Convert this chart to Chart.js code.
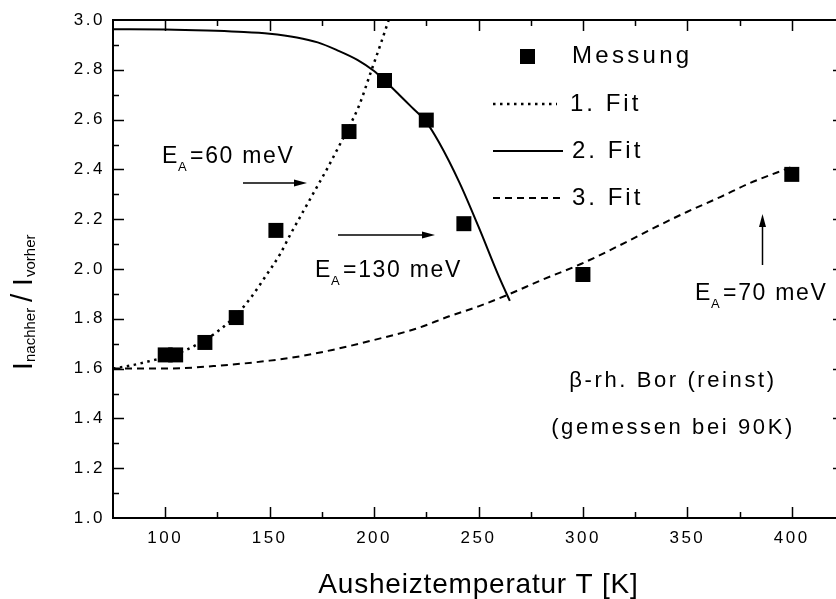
<!DOCTYPE html>
<html>
<head>
<meta charset="utf-8">
<script src="https://cdn.jsdelivr.net/npm/chart.js@4.4.0/dist/chart.umd.min.js"></script>
<style>
  html, body { margin: 0; padding: 0; background: #fff; overflow: hidden; }
  #wrap { width: 860px; height: 599px; }
</style>
</head>
<body>
<div id="wrap"><canvas id="c" width="860" height="599"></canvas></div>
<script>
// Measured ratio I_nachher / I_vorher against annealing temperature
const messungT = [100, 105, 119, 134, 153, 188, 205, 225, 243, 300, 400];
const messungV = [1.655, 1.655, 1.705, 1.805, 2.155, 2.552, 2.757, 2.598, 2.182, 1.978, 2.38];

// 1. Fit (E_A = 60 meV)
const fit1T = [75, 85, 95, 100, 110, 118, 126, 134, 141, 148, 155, 160, 166, 172, 178, 183, 188, 193, 198, 203, 207];
const fit1V = [1.600, 1.615, 1.635, 1.645, 1.675, 1.71, 1.755, 1.815, 1.885, 1.97, 2.06, 2.14, 2.23, 2.32, 2.41, 2.49, 2.57, 2.66, 2.78, 2.90, 3.0];

// 2. Fit (E_A = 130 meV)
const fit2T = [75, 100, 120, 135, 150, 163, 173, 182, 192, 200, 205, 212, 218, 225, 231, 241, 250, 260, 265];
const fit2V = [2.963, 2.962, 2.958, 2.953, 2.945, 2.93, 2.91, 2.88, 2.84, 2.795, 2.757, 2.70, 2.65, 2.59, 2.51, 2.345, 2.17, 1.965, 1.872];

// 3. Fit (E_A = 70 meV)
const fit3T = [75, 100, 126, 150, 165, 180, 200, 220, 236, 250, 265, 280, 299, 320, 334, 350, 366, 380, 400];
const fit3V = [1.600, 1.600, 1.612, 1.632, 1.65, 1.675, 1.715, 1.76, 1.81, 1.85, 1.90, 1.955, 2.02, 2.105, 2.165, 2.23, 2.29, 2.345, 2.41];

// Labelled ticks
const xTickLabels = [100, 150, 200, 250, 300, 350, 400];
const yTickLabels = ['1.0', '1.2', '1.4', '1.6', '1.8', '2.0', '2.2', '2.4', '2.6', '2.8', '3.0'];

const FONT = "'Liberation Sans', Arial, sans-serif";
const pts = (xs, ys) => xs.map((x, i) => ({ x: x, y: ys[i] }));

function txt(ctx, s, x, y, size, spacing, align) {
  ctx.font = size + 'px ' + FONT;
  ctx.letterSpacing = spacing + 'px';
  ctx.textAlign = align || 'left';
  ctx.textBaseline = 'alphabetic';
  ctx.fillStyle = '#000';
  ctx.fillText(s, x, y);
}

// "E_A=..." label with subscript A
function eaLabel(ctx, x, y, rest) {
  txt(ctx, 'E', x, y, 23, 1.7);
  txt(ctx, 'A', x + 16, y + 8, 13, 0.5);
  txt(ctx, rest, x + 28, y, 23, 1.7);
}

function arrow(ctx, x1, y1, x2, y2) {
  const a = Math.atan2(y2 - y1, x2 - x1);
  const L = 13, W = 3.5;
  ctx.save();
  ctx.strokeStyle = '#000';
  ctx.fillStyle = '#000';
  ctx.lineWidth = 1.5;
  ctx.setLineDash([]);
  ctx.beginPath();
  ctx.moveTo(x1, y1);
  ctx.lineTo(x2 - Math.cos(a) * L * 0.8, y2 - Math.sin(a) * L * 0.8);
  ctx.stroke();
  ctx.beginPath();
  ctx.moveTo(x2, y2);
  ctx.lineTo(x2 - Math.cos(a) * L - Math.sin(a) * W, y2 - Math.sin(a) * L + Math.cos(a) * W);
  ctx.lineTo(x2 - Math.cos(a) * L + Math.sin(a) * W, y2 - Math.sin(a) * L - Math.cos(a) * W);
  ctx.closePath();
  ctx.fill();
  ctx.restore();
}

const decor = {
  id: 'decor',
  beforeDraw(chart) {
    // wide-set tick labels
    chart.ctx.letterSpacing = '2.5px';
  },
  afterDraw(chart) {
    const ctx = chart.ctx;
    const xs = chart.scales.x, ys = chart.scales.y;
    const a = chart.chartArea;
    ctx.save();
    ctx.letterSpacing = '0px';

    // inward tick marks on all four sides
    ctx.strokeStyle = '#000';
    ctx.lineWidth = 1.5;
    ctx.beginPath();
    xs.ticks.forEach(t => {
      const v = t.value;
      if (v <= xs.min || v >= xs.max) return;
      const px = Math.round(xs.getPixelForValue(v)) + 0.5;
      const len = (v % 50 === 0) ? 11 : 6;
      ctx.moveTo(px, a.bottom); ctx.lineTo(px, a.bottom - len);
      ctx.moveTo(px, a.top); ctx.lineTo(px, a.top + len);
    });
    ys.ticks.forEach(t => {
      const v = t.value;
      if (v <= ys.min + 1e-9 || v >= ys.max - 1e-9) return;
      const py = Math.round(ys.getPixelForValue(v)) + 0.5;
      const len = (Math.round(v * 10) % 2 === 0) ? 11 : 6;
      ctx.moveTo(a.left, py); ctx.lineTo(a.left + len, py);
      ctx.moveTo(a.right, py); ctx.lineTo(a.right - len, py);
    });
    ctx.stroke();

    // legend
    const ms = chart.data.datasets;
    ctx.fillStyle = '#000';
    ctx.fillRect(520, 49, 15, 15);
    txt(ctx, 'Messung', 572, 63, 24, 3.3);
    const legendLine = (ds, y, x2) => {
      ctx.save();
      ctx.strokeStyle = '#000';
      ctx.lineWidth = ds.borderWidth;
      ctx.setLineDash(ds.borderDash || []);
      ctx.beginPath();
      ctx.moveTo(493, y); ctx.lineTo(x2, y);
      ctx.stroke();
      ctx.restore();
    };
    legendLine(ms[1], 104, 557); txt(ctx, '1. Fit', 570, 111, 24, 3);
    legendLine(ms[2], 151, 563); txt(ctx, '2. Fit', 572, 158, 24, 3);
    legendLine(ms[3], 198, 563); txt(ctx, '3. Fit', 572, 205, 24, 3);

    // activation energy notes
    eaLabel(ctx, 162, 163, '=60 meV');
    arrow(ctx, 243, 183, 307, 183);
    eaLabel(ctx, 315, 277, '=130 meV');
    arrow(ctx, 338, 235, 435, 235);
    eaLabel(ctx, 695, 300, '=70 meV');
    arrow(ctx, 762.5, 265, 762.5, 214);

    // sample description
    txt(ctx, '\u03B2-rh. Bor (reinst)', 673, 387, 22, 2.6, 'center');
    txt(ctx, '(gemessen bei 90K)', 673, 434, 22, 2.6, 'center');

    // axis titles
    txt(ctx, 'Ausheiztemperatur T [K]', (a.left + a.right) / 2, 593, 28, 0.8, 'center');

    ctx.save();
    ctx.translate(32, 370);
    ctx.rotate(-Math.PI / 2);
    txt(ctx, 'I', 0, 0, 28, 0);
    txt(ctx, 'nachher', 8, 3, 15, 0);
    txt(ctx, '/', 68, 0, 30, 0);
    txt(ctx, 'I', 84, 0, 28, 0);
    txt(ctx, 'vorher', 93, 3, 15, 0);
    ctx.restore();

    ctx.restore();
  }
};

const tickFont = { family: FONT, size: 17 };

new Chart(document.getElementById('c'), {
  type: 'line',
  data: {
    datasets: [
      {
        label: 'Messung',
        data: pts(messungT, messungV),
        showLine: false,
        pointStyle: 'rect',
        pointRadius: 10.6,
        pointBackgroundColor: '#000',
        pointBorderWidth: 0,
        borderColor: '#000',
        backgroundColor: '#000'
      },
      {
        label: '1. Fit',
        data: pts(fit1T, fit1V),
        borderColor: '#000',
        borderWidth: 2.5,
        borderDash: [2.5, 4.5],
        pointRadius: 0,
        cubicInterpolationMode: 'monotone'
      },
      {
        label: '2. Fit',
        data: pts(fit2T, fit2V),
        borderColor: '#000',
        borderWidth: 2,
        pointRadius: 0,
        cubicInterpolationMode: 'monotone'
      },
      {
        label: '3. Fit',
        data: pts(fit3T, fit3V),
        borderColor: '#000',
        borderWidth: 2,
        borderDash: [7, 5],
        pointRadius: 0,
        cubicInterpolationMode: 'monotone'
      }
    ]
  },
  options: {
    responsive: false,
    animation: false,
    devicePixelRatio: 1,
    layout: { padding: 0 },
    plugins: { legend: { display: false }, tooltip: { enabled: false } },
    elements: { line: { fill: false } },
    scales: {
      x: {
        type: 'linear', position: 'bottom', min: 75, max: 425,
        afterFit: s => { s.height = 81; },
        border: { display: true, color: '#000', width: 2 },
        grid: { display: false, drawTicks: false },
        ticks: {
          stepSize: 25, autoSkip: false, maxRotation: 0, padding: 10,
          color: '#000', font: tickFont,
          callback: v => xTickLabels.includes(v) ? String(v) : ''
        }
      },
      x2: {
        type: 'linear', position: 'top', min: 75, max: 425,
        afterFit: s => { s.height = 20; },
        border: { display: true, color: '#000', width: 2 },
        grid: { display: false, drawTicks: false },
        ticks: { display: false }
      },
      y: {
        type: 'linear', position: 'left', min: 1.0, max: 3.0,
        afterFit: s => { s.width = 113; },
        border: { display: true, color: '#000', width: 2 },
        grid: { display: false, drawTicks: false },
        ticks: {
          stepSize: 0.1, autoSkip: false, padding: 8,
          color: '#000', font: tickFont,
          callback: v => {
            const s = (Math.round(v * 10) / 10).toFixed(1);
            return yTickLabels.includes(s) ? s : '';
          }
        }
      },
      y2: {
        type: 'linear', position: 'right', min: 1.0, max: 3.0,
        afterFit: s => { s.width = 16; },
        border: { display: true, color: '#000', width: 2 },
        grid: { display: false, drawTicks: false },
        ticks: { display: false }
      }
    }
  },
  plugins: [decor]
});
</script>
</body>
</html>
